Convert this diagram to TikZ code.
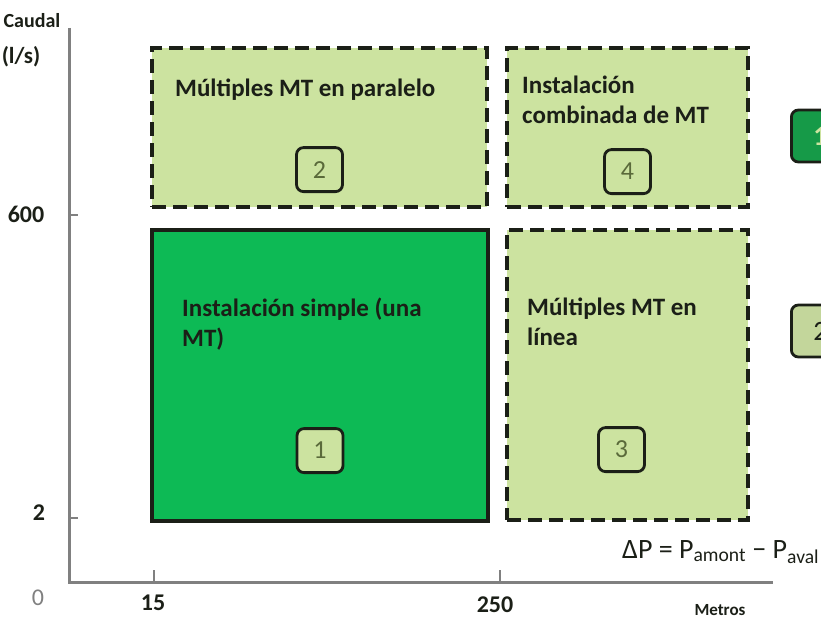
\documentclass[tikz,border=0pt]{standalone}
\usepackage{fontspec}
\setmainfont{Carlito}
\usetikzlibrary{positioning}
\definecolor{ink}{HTML}{1B1F17}
\definecolor{leaf}{HTML}{CCE3A0}
\definecolor{leafdark}{HTML}{C3D69B}
\definecolor{grass}{HTML}{0DBA55}
\definecolor{moss}{HTML}{169A48}
\definecolor{axisgray}{HTML}{808080}
\definecolor{numgray}{HTML}{5A6A3A}
\tikzset{zone/.style={draw=ink,fill=leaf,line width=3.5pt,dash pattern=on 14pt off 7pt,anchor=north west,outer sep=0pt,inner sep=0pt}, mainzone/.style={zone,solid,fill=grass}, zonetext/.style={anchor=north west,align=left,inner sep=0pt,text=ink,font=\bfseries\fontsize{25}{30}\selectfont}, badge/.style={draw=ink,fill=leaf,line width=2.8pt,rounded corners=7pt,minimum width=46pt,minimum height=44pt,inner sep=0pt,text=numgray,font=\fontsize{26}{26}\selectfont}, axlabel/.style={text=ink,inner sep=0pt,font=\bfseries\fontsize{24}{24}\selectfont}, axline/.style={draw=axisgray,line width=3pt}, axtick/.style={draw=axisgray,line width=1.5pt}}

\begin{document}
\begin{tikzpicture}[x=1pt,y=-1pt]
\clip (0,0) rectangle (821,623);
% axes
\coordinate (ytop) at (69,28);\coordinate (orig) at (69,582);\coordinate (xend) at (773,582);
\draw[axline] (ytop)--(orig)--(xend);
\coordinate (t600) at (69,215);\coordinate (t2) at (69,518);\coordinate (t15) at (154,582);\coordinate (t250) at (500,582);
\draw[axtick] (t600)--++(9,0);\draw[axtick] (t2)--++(9,0);\draw[axtick] (t15)--++(0,-12);\draw[axtick] (t250)--++(0,-12);
\node[axlabel,font=\bfseries\fontsize{20}{20}\selectfont] (caudal) at (32,21) {Caudal};
\node[axlabel,font=\bfseries\fontsize{23}{23}\selectfont] (unit) at (21,57) {(l/s)};
\node[axlabel] (q600) at (26,214) {600};
\node[axlabel] (q2) at (39,513) {2};
\node[axlabel,text=axisgray,font=\fontsize{24}{24}\selectfont] (zero) at (38,598) {0};
\node[axlabel] (m15) at (153,603) {15};
\node[axlabel] (m250) at (495,605) {250};
\node[axlabel,font=\bfseries\fontsize{17}{17}\selectfont] (metros) at (720,610) {Metros};
\node[anchor=base west,inner sep=0pt,text=ink,font=\fontsize{28}{28}\selectfont] (dp) at (622,558) {ΔP = P\textsubscript{amont} − P\textsubscript{aval}};
% zones
\node[zone,minimum width=335pt,minimum height=159pt] (par) at (152,48) {};
\node[zone,minimum width=241pt,minimum height=159pt] (comb) at (507,48) {};
\node[mainzone,minimum width=336pt,minimum height=291pt] (simple) at (152,230) {};
\node[zone,minimum width=241pt,minimum height=290pt] (enlinea) at (507,230) {};
\node[zonetext] (partxt) at (175,79) {Múltiples MT en paralelo};
\node[zonetext] (combtxt) at (522,76) {Instalación\\combinada de MT};
\node[zonetext] (simpletxt) at (182,298) {Instalación simple (una\\MT)};
\node[zonetext] (enlineatxt) at (527,298) {Múltiples MT en\\línea};
\node[badge,above=14pt of par.south] (b2) {2};
\node[badge,above=12pt of comb.south] (b4) {4};
\node[badge,above=47pt of simple.south] (b1) {1};
\node[badge,above=47pt of enlinea.south,xshift=-6pt] (b3) {3};
% key
\node[badge,fill=moss,text=leaf,font=\bfseries\fontsize{28}{28}\selectfont,minimum width=58pt,minimum height=52pt,anchor=west] (key1) at (790,136) {1};
\node[badge,fill=leafdark,text=ink,font=\fontsize{28}{28}\selectfont,minimum width=58pt,minimum height=52pt,anchor=west] (key2) at (790,331) {2};
\end{tikzpicture}
\end{document}
